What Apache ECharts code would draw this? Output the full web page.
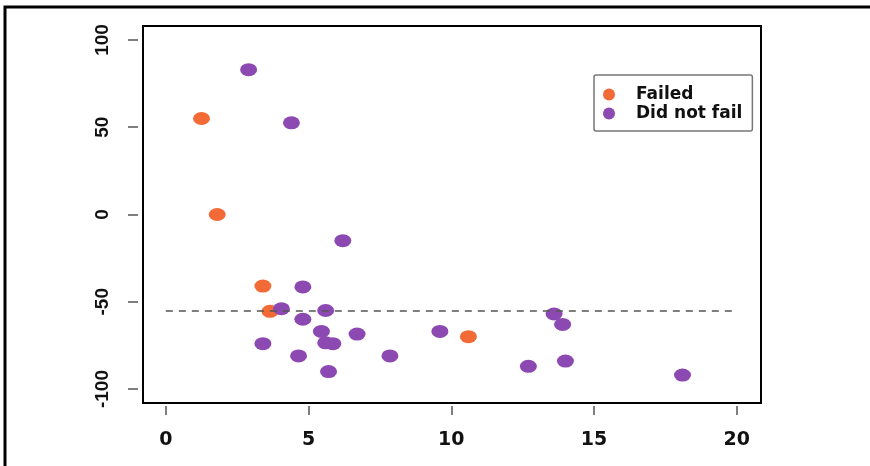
<!DOCTYPE html>
<html>
<head>
<meta charset="utf-8">
<script src="https://cdn.jsdelivr.net/npm/echarts@6/dist/echarts.min.js"></script>
<style>
  html, body { margin: 0; padding: 0; background: #fff; }
  #chart { width: 870px; height: 466px; }
</style>
</head>
<body>
<div id="chart"></div>
<script>
// values
const failedX = [1.25, 1.8, 3.4, 3.65, 10.6];
const failedY = [55, 0, -41, -55.5, -70];

const okX = [2.9, 4.4, 6.2, 4.8, 4.05, 5.6, 4.8, 5.45, 6.7, 5.6, 5.85, 3.4, 4.65, 5.7, 7.85, 9.6, 12.7, 13.6, 13.9, 14.0, 18.1];
const okY = [83, 52.5, -15, -41.5, -54, -55, -60, -67, -68.5, -73.5, -74, -74, -81, -90, -81, -67, -87, -57, -63, -84, -92];

const xTicks = [0, 5, 10, 15, 20];
const yTicks = [-100, -50, 0, 50, 100];

const cutoffY = -55;
const cutoffFrom = 0;
const cutoffTo = 20;

const orange = "#f26a36";
const purple = "#8d49b2";

const chart = echarts.init(document.getElementById("chart"));

const zip = (xs, ys) => xs.map((x, i) => [x, ys[i]]);

const option = {
  animation: false,
  backgroundColor: "#fff",
  grid: {
    left: 143, top: 26, width: 618, height: 377,
    show: true, borderColor: "#000", borderWidth: 2,
    containLabel: false, outerBoundsMode: "none",
  },
  graphic: [{
    type: "polyline",
    shape: {points: [[5, 470], [5, 7], [875, 7]]},
    style: {stroke: "#000", lineWidth: 3, fill: null},
    silent: true,
  }],
  legend: {
    left: 594, top: 75,
    orient: "vertical",
    padding: [11, 10, 9, 9],
    itemGap: 2,
    itemWidth: 14, itemHeight: 12,
    borderColor: "#777", borderWidth: 1.5, borderRadius: 2,
    textStyle: {
      fontFamily: "DejaVu Sans", fontWeight: "bold", fontSize: 17, color: "#111",
      padding: [0, 0, 0, 15],
    },
    data: [
      {name: "Failed", icon: "circle"},
      {name: "Did not fail", icon: "circle"},
    ],
  },
  xAxis: {
    type: "value",
    min: -0.8, max: 20.85,
    offset: 3,
    axisLine: {show: false, onZero: false},
    splitLine: {show: false},
    axisTick: {show: true, length: 9, customValues: xTicks, lineStyle: {color: "#555", width: 1.5}},
    axisLabel: {
      customValues: xTicks, margin: 25,
      fontFamily: "DejaVu Sans", fontWeight: "bold", fontSize: 19, color: "#111",
    },
  },
  yAxis: {
    type: "value",
    min: -108, max: 108,
    offset: 5,
    axisLine: {show: false, onZero: false},
    splitLine: {show: false},
    axisTick: {show: true, length: 10, customValues: yTicks, lineStyle: {color: "#555", width: 1.5}},
    axisLabel: {
      customValues: yTicks, rotate: 90, margin: 26,
      fontFamily: "Liberation Sans", fontWeight: "bold", fontSize: 19, color: "#111",
    },
  },
  series: [
    {
      name: "Failed",
      type: "scatter",
      symbol: "circle",
      symbolSize: [17, 13],
      itemStyle: {color: orange, opacity: 1},
      data: zip(failedX, failedY),
      markLine: {
        silent: true,
        symbol: "none",
        label: {show: false},
        lineStyle: {color: "#555", width: 1.5, type: [7, 6]},
        data: [[{coord: [cutoffFrom, cutoffY]}, {coord: [cutoffTo, cutoffY]}]],
      },
    },
    {
      name: "Did not fail",
      type: "scatter",
      symbol: "circle",
      symbolSize: [17, 13],
      itemStyle: {color: purple, opacity: 1},
      data: zip(okX, okY),
    },
  ],
};

chart.setOption(option);
</script>
</body>
</html>
